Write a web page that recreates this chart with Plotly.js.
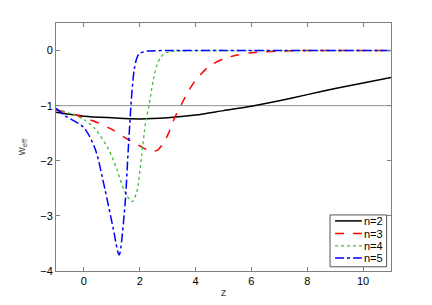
<!DOCTYPE html>
<html><head><meta charset="utf-8">
<script src="https://cdn.plot.ly/plotly-3.0.1.min.js"></script>
<style>html,body{margin:0;padding:0;background:#fff}#plot{width:432px;height:305px}</style>
</head><body><div id="plot"></div>
<script>
const z2 = [-1,0,1,2,3,4,5,6,7,8,9,10,11];
const w2 = [-1.12,-1.19,-1.22,-1.24,-1.22,-1.17,-1.09,-1.01,-0.91,-0.80,-0.69,-0.59,-0.49];

const z3 = [-1,-0.5,0,0.5,1,1.5,2,2.25,2.45,2.65,2.85,3.05,3.25,3.5,3.75,4,4.5,5,5.5,6,7,8,9,10,11];
const w3 = [-1.08,-1.14,-1.22,-1.31,-1.43,-1.59,-1.73,-1.8,-1.83,-1.8,-1.68,-1.48,-1.22,-0.97,-0.73,-0.54,-0.28,-0.15,-0.08,-0.04,-0.01,0,0,0,0];

const z4 = [-1,-0.5,0,0.4,0.87,1.17,1.47,1.73,1.89,2.07,2.21,2.33,2.42,2.52,2.62,2.77,3,3.5,4,6,8,11];
const w4 = [-1.06,-1.14,-1.25,-1.42,-1.78,-2.14,-2.57,-2.74,-2.57,-1.9,-1.3,-1.0,-0.72,-0.45,-0.26,-0.11,-0.03,-0.005,0,0,0,0];

const z5 = [-1,-0.68,0,0.4,0.75,1.05,1.26,1.47,1.59,1.71,1.8,1.9,2,2.3,3,5,8,11];
const w5 = [-1.05,-1.18,-1.4,-1.78,-2.51,-3.23,-3.71,-2.81,-1.78,-0.82,-0.35,-0.13,-0.05,-0.01,0,0,0,0];

const names = ['n=2','n=3','n=4','n=5'];
const colors = ['#000000','#ff0000','#44bb44','#0000ff'];
const dashes = ['solid','dash','dot','dashdot'];
const widths = [1.5,1.5,1.3,1.5];
const xTicks = [0,2,4,6,8,10];
const yTicks = [-4,-3,-2,-1,0];

const FONT = 'Liberation Sans, Arial, sans-serif';
const series = [[z2,w2],[z3,w3],[z4,w4],[z5,w5]];
const traces = series.map((s,i)=>({type:'scatter',mode:'lines',x:s[0],y:s[1],name:names[i],
  line:{color:colors[i],width:widths[i],dash:dashes[i],shape:'spline',smoothing:0.8}}));

const axisCommon = {showgrid:false,zeroline:false,showline:true,mirror:'ticks',linecolor:'#808080',linewidth:1,
  ticks:'inside',ticklen:4,tickcolor:'#808080',tickfont:{family:FONT,size:11,color:'#000'}};

// compact MATLAB-style legend box
const legX0=0.818, legX1=0.987, legY0=0.017, legY1=0.226;
const itemY=[0.202,0.151,0.101,0.052];
const shapes=[
  {type:'line',xref:'paper',x0:0,x1:1,yref:'y',y0:-1,y1:-1,line:{color:'#909090',width:1},layer:'below'},
  {type:'rect',xref:'paper',yref:'paper',x0:legX0,x1:legX1,y0:legY0,y1:legY1,line:{color:'#555',width:1},fillcolor:'#fff',layer:'above'}
];
const annotations=[];
names.forEach((n,i)=>{
  shapes.push({type:'line',xref:'paper',yref:'paper',x0:0.833,x1:0.913,y0:itemY[i],y1:itemY[i],
    line:{color:colors[i],width:widths[i],dash:dashes[i]},layer:'above'});
  annotations.push({xref:'paper',yref:'paper',x:0.914,y:itemY[i],xanchor:'left',yanchor:'middle',
    text:n,showarrow:false,font:{family:FONT,size:11,color:'#000'}});
});

const layout = {
  width:432,height:305,margin:{l:56,r:41,t:23,b:34},
  paper_bgcolor:'#fff',plot_bgcolor:'#fff',
  showlegend:false,
  xaxis:Object.assign({},axisCommon,{range:[-1,11],tickvals:xTicks,
    title:{text:'z',font:{family:FONT,size:11},standoff:2}}),
  yaxis:Object.assign({},axisCommon,{range:[-4,0.5],tickvals:yTicks,
    title:{text:'w<sub>eff</sub>',font:{family:FONT,size:11},standoff:12}}),
  shapes:shapes, annotations:annotations
};
Plotly.newPlot('plot',traces,layout,{staticPlot:true,displayModeBar:false});
</script></body></html>
